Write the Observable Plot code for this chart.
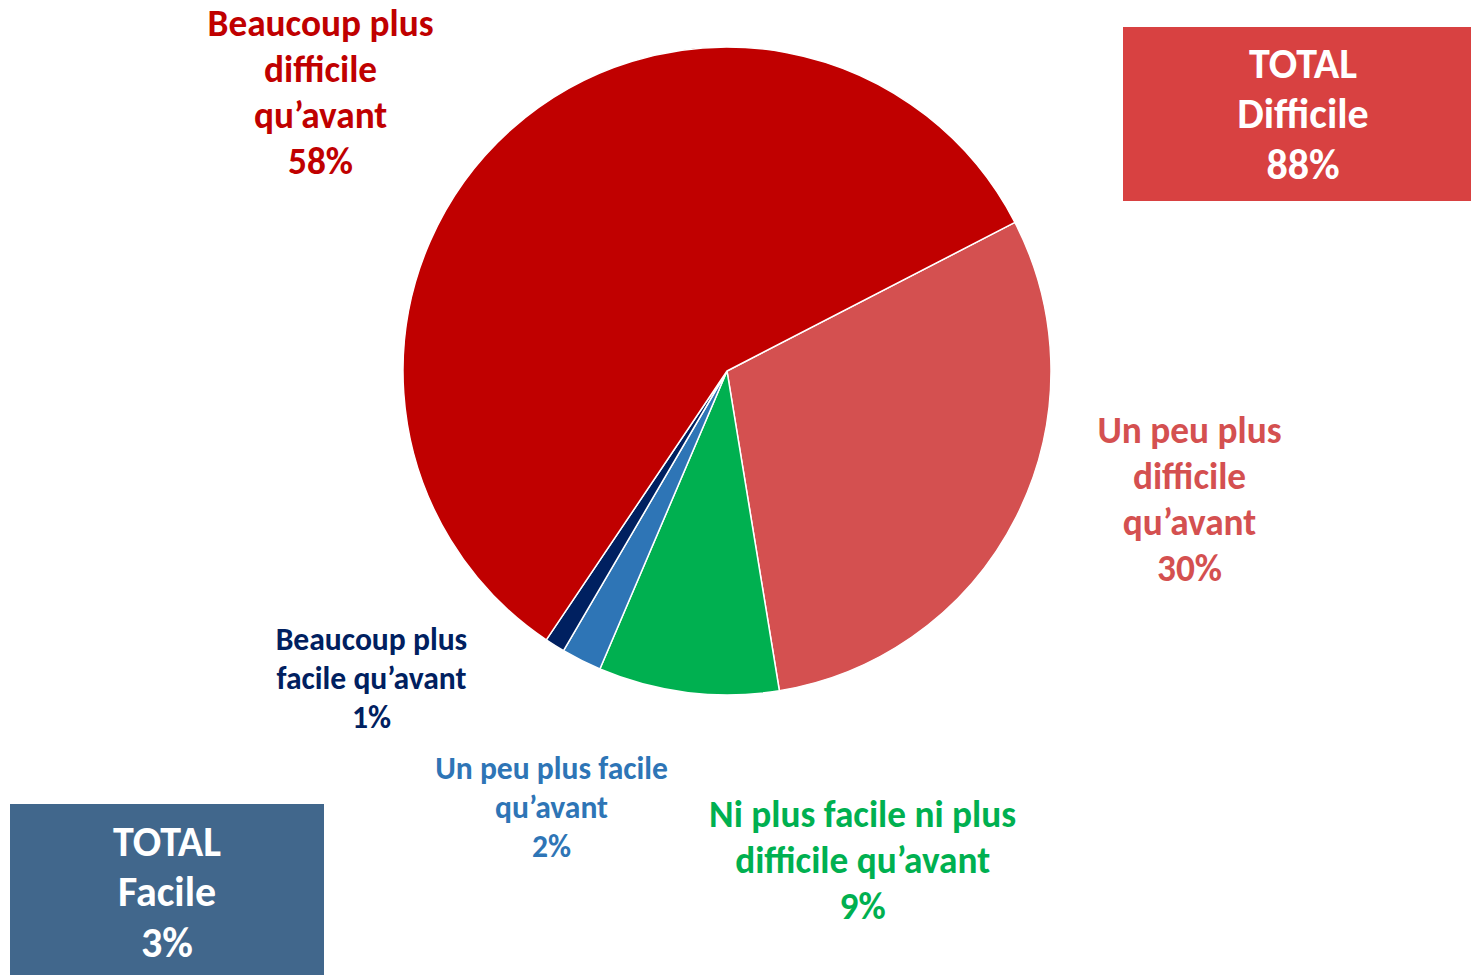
<!DOCTYPE html>
<html>
<head>
<meta charset="utf-8">
<script src="https://cdn.jsdelivr.net/npm/d3@7"></script>
<script src="https://cdn.jsdelivr.net/npm/@observablehq/plot@0.6"></script>
<style>
  body { margin: 0; background: #fff; }
  #wrap { position: relative; width: 1471px; height: 975px; overflow: hidden; font-family: Carlito, Lato, sans-serif; }
  #wrap svg { position: absolute; left: 0; top: 0; font-family: Carlito, Lato, sans-serif; }
  .box { position: absolute; color: #fff; font-weight: bold; text-align: center; display: flex; align-items: center; justify-content: center; font-size: 42px; line-height: 50.5px; box-sizing: border-box; }
</style>
</head>
<body>
<div id="wrap"></div>
<script>
// ---- Data ----
const categories = [
  "Un peu plus difficile qu’avant",
  "Ni plus facile ni plus difficile qu’avant",
  "Un peu plus facile qu’avant",
  "Beaucoup plus facile qu’avant",
  "Beaucoup plus difficile qu’avant"
];
const values = [30, 9, 2, 1, 58];
const colors = ["#D45050", "#00B050", "#2E75B6", "#002060", "#C00000"];
const labelTexts = [
  "Un peu plus\ndifficile\nqu’avant",
  "Ni plus facile ni plus\ndifficile qu’avant",
  "Un peu plus facile\nqu’avant",
  "Beaucoup plus\nfacile qu’avant",
  "Beaucoup plus\ndifficile\nqu’avant"
];
const totalNames = ["Difficile", "Facile"];
const totalValues = [88, 3];
const totalColors = ["#D84141", "#41678C"];

// ---- Layout (label anchors in pie-radius units, y up) ----
const startAngleDeg = 62.7;
const labelX = [1.426, 0.417, -0.543, -1.099, -1.256];
const labelY = [-0.387, -1.503, -1.340, -0.942, 0.867];
const labelSize = ["big", "big", "small", "small", "big"];

const W = 1471, H = 975, CX = 727, CY = 371, R = 324;

const slices = categories.map((c, i) => ({
  category: c, value: values[i], color: colors[i],
  label: labelTexts[i] + "\n" + values[i] + "%",
  lx: labelX[i], ly: labelY[i], size: labelSize[i]
}));

const startAngle = startAngleDeg * Math.PI / 180;

function pieMark(index, scales) {
  const sx = scales.x, sy = scales.y;
  const cx = sx(0), cy = sy(0), r = sx(1) - sx(0);
  const arcs = d3.pie().value(d => d.value).sort(null)
    .startAngle(startAngle).endAngle(startAngle + 2 * Math.PI)(slices);
  const g = d3.create("svg:g").attr("transform", `translate(${cx},${cy})`);
  g.selectAll("path").data(arcs).join("path")
    .attr("d", d3.arc().innerRadius(0).outerRadius(r))
    .attr("fill", d => d.data.color)
    .attr("stroke", "#fff")
    .attr("stroke-width", 1.5)
    .attr("stroke-linejoin", "round");
  return g.node();
}

const big = slices.filter(d => d.size === "big");
const small = slices.filter(d => d.size === "small");

const chart = Plot.plot({
  width: W, height: H,
  margin: 0,
  style: { background: "transparent", fontFamily: "Carlito, Lato, sans-serif" },
  x: { domain: [-CX / R, (W - CX) / R], range: [0, W], axis: null },
  y: { domain: [-(H - CY) / R, CY / R], range: [H, 0], axis: null },
  marks: [
    pieMark,
    Plot.text(big, { x: "lx", y: "ly", text: "label", fill: "color", fontSize: 37.3, fontWeight: "bold", lineHeight: 1.233 }),
    Plot.text(small, { x: "lx", y: "ly", text: "label", fill: "color", fontSize: 31.6, fontWeight: "bold", lineHeight: 1.234 })
  ]
});

const wrap = document.getElementById("wrap");
wrap.appendChild(chart);

// Total boxes (annotations)
const boxPos = [
  { left: 1123, top: 27, width: 360, height: 174, padTop: 1 },
  { left: 10, top: 804, width: 314, height: 171, padTop: 6 }
];
totalNames.forEach((n, i) => {
  const div = document.createElement("div");
  div.className = "box";
  Object.assign(div.style, {
    left: boxPos[i].left + "px", top: boxPos[i].top + "px",
    width: boxPos[i].width + "px", height: boxPos[i].height + "px",
    paddingTop: boxPos[i].padTop + "px",
    background: totalColors[i]
  });
  div.innerHTML = `<div>TOTAL<br>${n}<br>${totalValues[i]}%</div>`;
  wrap.appendChild(div);
});
</script>
</body>
</html>
